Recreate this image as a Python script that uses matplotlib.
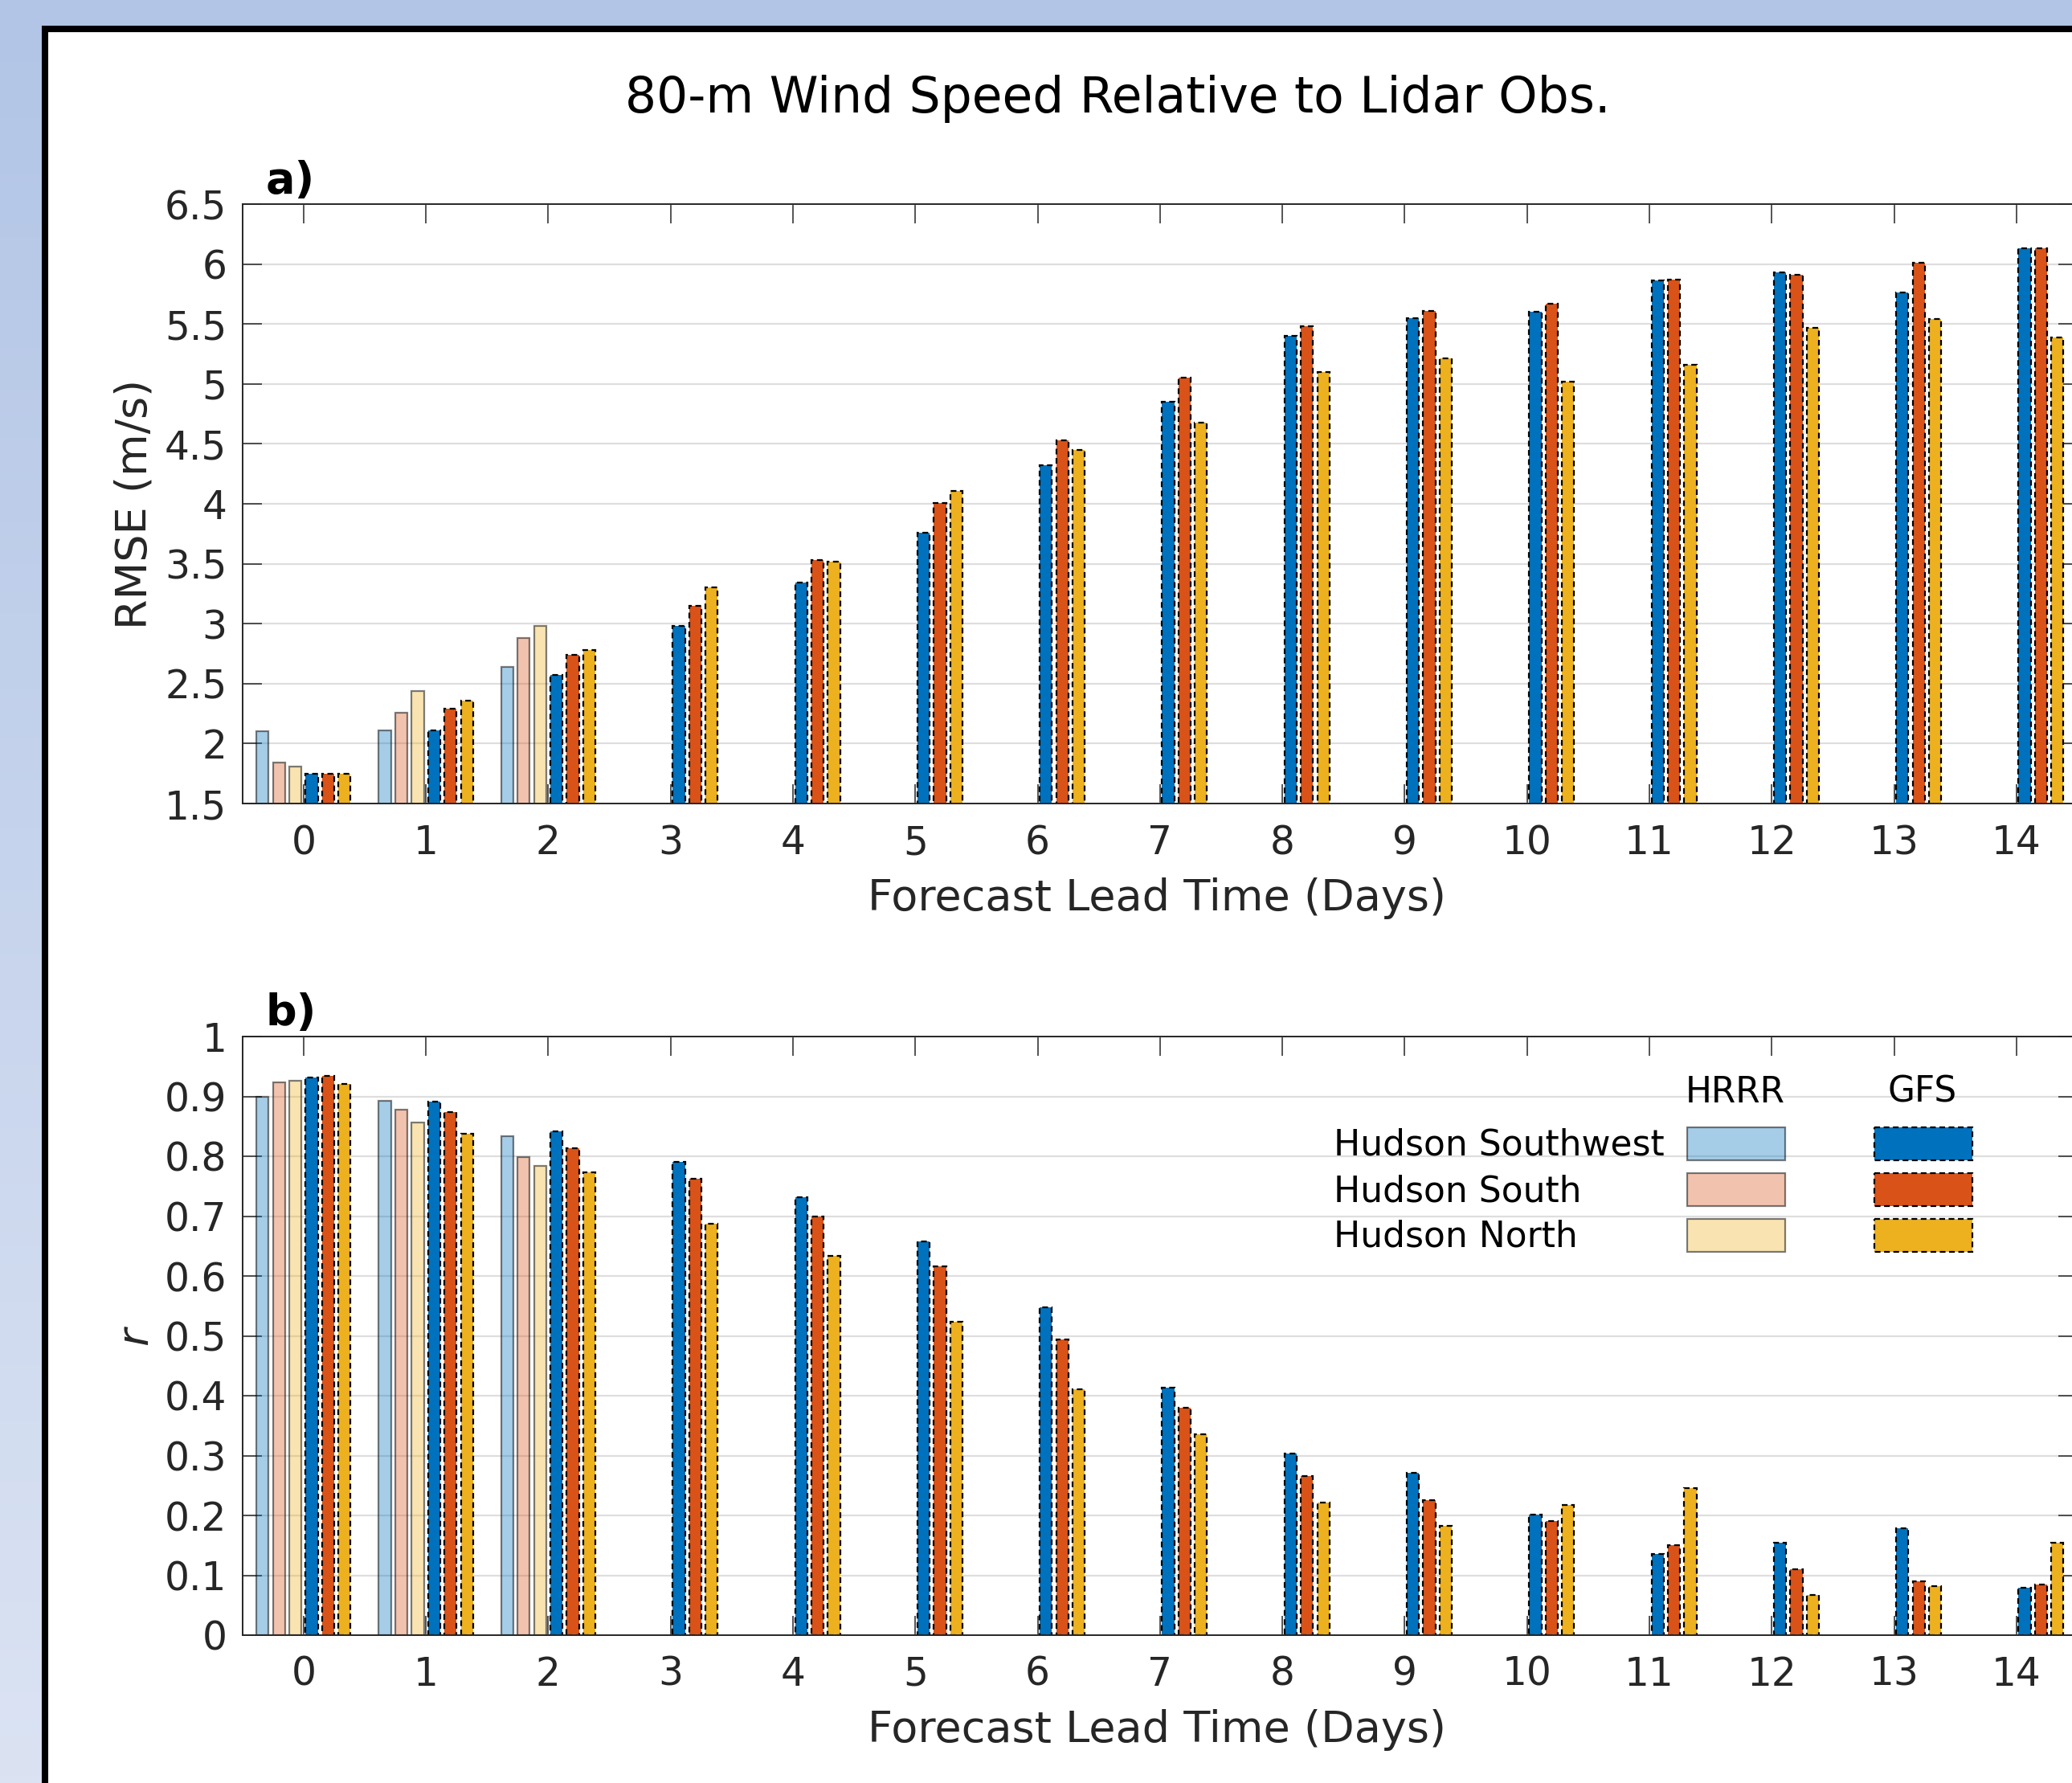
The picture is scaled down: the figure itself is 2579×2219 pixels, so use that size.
import numpy as np
import matplotlib
matplotlib.use("Agg")
import matplotlib.pyplot as plt
from matplotlib.colors import LinearSegmentedColormap
from matplotlib.patches import Rectangle
from matplotlib.ticker import FuncFormatter
from matplotlib.transforms import Affine2D

W, H, DPI = 2579, 2219, 100

# forecast lead time (days); HRRR only runs out to day 2
days = np.arange(15)
hrrr_days = np.arange(3)
sites = ["Hudson Southwest", "Hudson South", "Hudson North"]

# panel a) RMSE (m/s)
rmse_hrrr_sw = [2.10, 2.11, 2.64]
rmse_hrrr_s = [1.84, 2.26, 2.88]
rmse_hrrr_n = [1.81, 2.44, 2.98]
rmse_gfs_sw = [1.75, 2.11, 2.57, 2.98, 3.34, 3.76, 4.32, 4.85, 5.40, 5.55, 5.60, 5.86, 5.93, 5.76, 6.13]
rmse_gfs_s = [1.75, 2.29, 2.74, 3.15, 3.53, 4.01, 4.53, 5.05, 5.48, 5.61, 5.67, 5.87, 5.91, 6.01, 6.13]
rmse_gfs_n = [1.75, 2.36, 2.78, 3.30, 3.52, 4.11, 4.45, 4.68, 5.10, 5.21, 5.02, 5.16, 5.47, 5.54, 5.39]

# panel b) correlation r
r_hrrr_sw = [0.900, 0.893, 0.834]
r_hrrr_s = [0.923, 0.878, 0.799]
r_hrrr_n = [0.926, 0.857, 0.784]
r_gfs_sw = [0.931, 0.891, 0.842, 0.790, 0.731, 0.658, 0.547, 0.414, 0.304, 0.271, 0.202, 0.135, 0.154, 0.178, 0.079]
r_gfs_s = [0.934, 0.874, 0.814, 0.762, 0.700, 0.616, 0.494, 0.380, 0.266, 0.226, 0.191, 0.151, 0.110, 0.090, 0.084]
r_gfs_n = [0.921, 0.837, 0.773, 0.687, 0.634, 0.523, 0.411, 0.335, 0.221, 0.183, 0.218, 0.245, 0.067, 0.082, 0.155]

COLORS = [(0.0, 0.447, 0.741), (0.850, 0.325, 0.098), (0.929, 0.694, 0.125)]
HRRR_ALPHA = 0.35
BW = 0.1
OFFS = (np.arange(6) - 2.5) * 0.134
DARK = "#262626"
DASH = (0, (3.2, 2.0))

plt.rcParams["font.family"] = "DejaVu Sans"

fig = plt.figure(figsize=(W / DPI, H / DPI), dpi=DPI)
# pixel coords (origin top-left) -> display
pix = Affine2D().scale(1 / W, -1 / H).translate(0, 1) + fig.transFigure

# slide background + white panel with black frame
bg = fig.add_axes([0, 0, 1, 1], zorder=-10)
cmap = LinearSegmentedColormap.from_list("bg", ["#b2c5e6", "#dbe3f3"])
bg.imshow(np.linspace(0, 1, 256)[:, None], aspect="auto", cmap=cmap, extent=[0, W, H, 0])
bg.add_patch(Rectangle((56, 36), W, H, facecolor="white", edgecolor="black", lw=5.8))
bg.set_xlim(0, W)
bg.set_ylim(H, 0)
bg.axis("off")

left, width = 301.7 / W, (2586 - 301.7) / W
ax_a = fig.add_axes([left, 1 - 1000 / H, width, 746 / H])
ax_b = fig.add_axes([left, 1 - 2035 / H, width, 745 / H])


def draw_bars(ax, hrrr, gfs):
    for k, (vals, c) in enumerate(zip(hrrr, COLORS)):
        ax.bar(hrrr_days + OFFS[k], vals, BW, facecolor=(*c, HRRR_ALPHA),
               edgecolor=(0, 0, 0, 0.5), lw=1.6)
    for k, (vals, c) in enumerate(zip(gfs, COLORS)):
        ax.bar(days + OFFS[k + 3], vals, BW, facecolor=c, edgecolor="black",
               lw=1.6, ls=DASH)


def style(ax, ylim, yticks, ylabel, tag, italic=False):
    ax.set_facecolor("none")
    ax.set_xlim(-0.5, 14.5)
    ax.set_ylim(*ylim)
    ax.set_xticks(days)
    ax.set_yticks(yticks)
    ax.yaxis.set_major_formatter(FuncFormatter(lambda v, p: f"{v:g}"))
    ax.tick_params(axis="both", direction="in", length=17, width=1.1, top=True,
                   right=True, labelsize=35, colors=DARK)
    ax.tick_params(axis="x", pad=18)
    ax.tick_params(axis="y", pad=14)
    ax.yaxis.grid(True, color="#dedede", lw=1.6)
    ax.set_axisbelow(True)
    for s in ax.spines.values():
        s.set_color(DARK)
        s.set_linewidth(1.4)
    ax.set_xlabel("Forecast Lead Time (Days)", fontsize=39, color=DARK, va="baseline")
    ax.xaxis.set_label_coords(0.4985, -0.178)
    ax.set_ylabel(ylabel, fontsize=39, color=DARK, va="baseline",
                  fontstyle="italic" if italic else "normal")
    ax.yaxis.set_label_coords(-0.052, 0.5)
    ax.text(0.0125, 1.019, tag, transform=ax.transAxes, fontsize=39,
            fontweight="bold", va="baseline")


draw_bars(ax_a, [rmse_hrrr_sw, rmse_hrrr_s, rmse_hrrr_n], [rmse_gfs_sw, rmse_gfs_s, rmse_gfs_n])
style(ax_a, (1.5, 6.5), np.arange(1.5, 6.51, 0.5), "RMSE (m/s)", "a)")

draw_bars(ax_b, [r_hrrr_sw, r_hrrr_s, r_hrrr_n], [r_gfs_sw, r_gfs_s, r_gfs_n])
style(ax_b, (0, 1), np.arange(0, 1.01, 0.1), "r", "b)", italic=True)

fig.text(1391 / W, 1 - 140 / H, "80-m Wind Speed Relative to Lidar Obs.",
         fontsize=44.3, ha="center", va="baseline")

# two-column legend (HRRR / GFS) drawn by hand in pixel coordinates
ax_b.text(2160, 1372, "HRRR", transform=pix, fontsize=31.5, ha="center", va="baseline")
ax_b.text(2393, 1372, "GFS", transform=pix, fontsize=31.5, ha="center", va="baseline")
for i, (name, c) in enumerate(zip(sites, COLORS)):
    y0 = 1403 + 57 * i
    ax_b.text(1660, y0 + 35, name, transform=pix, fontsize=31.7, va="baseline")
    ax_b.add_patch(Rectangle((2100, y0), 122, 41, transform=pix, clip_on=False,
                             facecolor=(*c, HRRR_ALPHA), edgecolor=(0, 0, 0, 0.5), lw=1.6))
    ax_b.add_patch(Rectangle((2333, y0), 122, 41, transform=pix, clip_on=False,
                             facecolor=c, edgecolor="black", lw=1.6, ls=DASH))

fig.savefig("out.png", dpi=DPI)
